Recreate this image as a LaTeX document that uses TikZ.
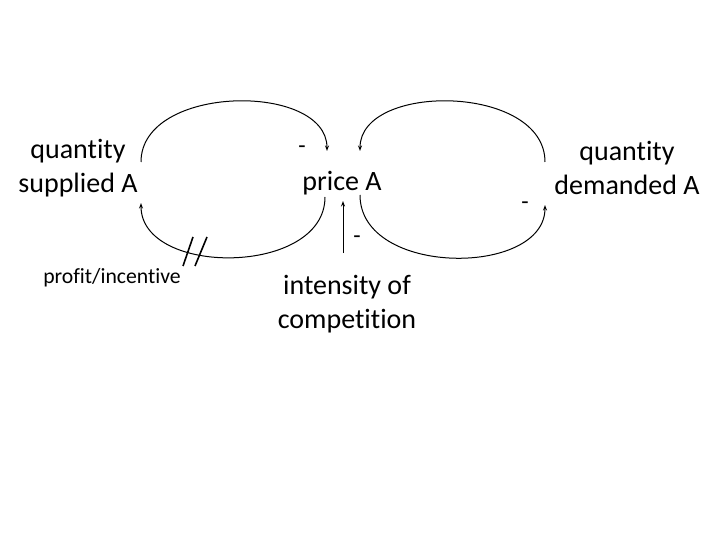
\documentclass[tikz,border=0pt]{standalone}
\usepackage{fontspec}
\setmainfont{Carlito}[RawFeature=-liga]
\usetikzlibrary{arrows.meta}
\begin{document}
\begin{tikzpicture}[x=1pt,y=-1pt,
  lbl/.style={inner sep=0pt,align=center,font=\fontsize{28}{34}\selectfont},
  small/.style={inner sep=0pt,font=\fontsize{21.7}{26}\selectfont},
  sgn/.style={inner sep=0pt,font=\fontsize{24}{28}\selectfont},
  link/.style={line width=1pt,-{Stealth[length=5.5pt,width=4pt]}},
  slash/.style={line width=1.6pt}]
\useasboundingbox (0,0) rectangle (720,540);
\node[lbl] (qs) at (78,168) {quantity\\supplied A};
\node[lbl,anchor=base] (pa) at (342,191) {price A};
\node[lbl] (qd) at (627,168) {quantity\\demanded A};
\node[small,anchor=base] (pi) at (112,283) {profit/incentive};
\node[lbl] (ic) at (347,304) {intensity of\\competition};
% anchor points of the loops
\coordinate (qsT) at (141,162);
\coordinate (qsB) at (141,203);
\coordinate (paTL) at (327,151);
\coordinate (paBL) at (325,197);
\coordinate (paTR) at (360,151);
\coordinate (paBR) at (360,195);
\coordinate (qdT) at (545,162);
\coordinate (qdB) at (545,205);
\coordinate (icT) at (343,253);
\coordinate (paB) at (343,201);
% left loop
\draw[link] (qsT) .. controls (141,84) and (327,82) .. (paTL);
\draw[link] (paBL) .. controls (325,276) and (141,277) .. (qsB);
% right loop
\draw[link] (qdT) .. controls (545,84) and (360,82) .. (paTR);
\draw[link] (paBR) .. controls (360,277) and (545,277) .. (qdB);
% competition arrow
\draw[link] (icT) -- (paB);
% delay marks
\coordinate (s1a) at (183,266); \coordinate (s1b) at (193,237);
\coordinate (s2a) at (195,266); \coordinate (s2b) at (207,237);
\draw[slash] (s1a) -- (s1b);
\draw[slash] (s2a) -- (s2b);
% signs
\node[sgn] (m1) at (302,150) {-};
\node[sgn] (m2) at (525,206) {-};
\node[sgn] (m3) at (357,240) {-};
\end{tikzpicture}
\end{document}
